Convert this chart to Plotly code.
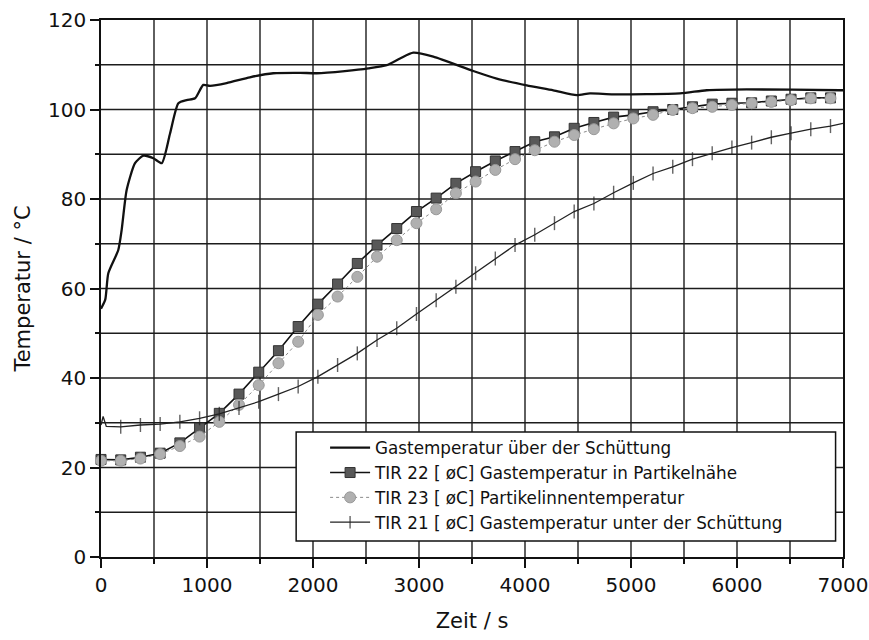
import plotly.graph_objects as go

# ---------------- data ----------------
# Gastemperatur über der Schüttung (continuous line)
t_gas = [0, 40, 69, 163, 195, 242, 321, 400, 494, 573, 652, 730, 808, 887, 965,
         1028, 1185, 1405, 1625, 1877, 2035, 2300, 2522, 2695, 2821, 2946, 3135,
         3512, 3733, 4016, 4267, 4488, 4613, 4833, 5462, 5714, 6091, 6972, 7000]
v_gas = [55.5, 57.5, 63.4, 68.6, 73.1, 82.0, 88.0, 89.7, 89.1, 88.0, 94.7, 101.4,
         102.1, 102.5, 105.5, 105.3, 105.9, 107.2, 108.1, 108.2, 108.1, 108.6, 109.2,
         109.9, 111.4, 112.7, 111.8, 108.6, 106.9, 105.4, 104.3, 103.2, 103.6, 103.4,
         103.6, 104.3, 104.5, 104.3, 104.3]

# sampling times of the measured points (s)
t_meas = [0, 186, 372, 558, 744, 930, 1116, 1302, 1488, 1674, 1860, 2046, 2232,
          2418, 2604, 2790, 2976, 3162, 3348, 3534, 3720, 3906, 4092, 4278, 4464,
          4650, 4836, 5022, 5208, 5394, 5580, 5766, 5952, 6138, 6324, 6510, 6696, 6882]

v_tir22 = [21.8, 21.7, 22.3, 23.2, 25.5, 28.8, 32.1, 36.4, 41.3, 46.1, 51.5, 56.5,
           61.0, 65.6, 69.7, 73.4, 77.2, 80.2, 83.5, 86.1, 88.5, 90.6, 92.8, 93.9,
           95.8, 97.1, 98.3, 98.8, 99.5, 100.0, 100.6, 101.2, 101.4, 101.5, 101.9,
           102.3, 102.6, 102.6]

v_tir23 = [21.5, 21.5, 22.0, 23.0, 24.8, 26.9, 30.2, 34.0, 38.4, 43.3, 48.1, 54.1,
           58.2, 62.6, 67.1, 70.8, 74.6, 77.7, 81.3, 83.9, 86.5, 88.9, 90.9, 92.8,
           94.3, 95.6, 96.9, 98.0, 98.8, 99.9, 100.3, 100.6, 101.0, 101.4, 101.7,
           102.1, 102.5, 102.5]

# TIR 21 (line with start spike; markers at the sampling times)
t_tir21 = [0, 20, 50] + t_meas[1:] + [7000]
v_tir21 = [29.5, 31.4, 29.2,
           29.1, 29.5, 29.7, 30.2, 31.0, 32.0, 33.3, 34.7, 36.4, 38.1, 40.3, 42.9,
           45.5, 48.5, 51.1, 54.3, 57.4, 60.4, 63.4, 66.7, 69.7, 72.0, 74.6, 77.2,
           79.0, 81.4, 83.6, 85.7, 87.2, 88.9, 90.2, 91.5, 92.6, 93.8, 94.7, 95.6,
           96.3, 96.9]
tir21_marker_size = [10 if t in t_meas[1:] else 0 for t in t_tir21]

names = ["Gastemperatur über der Schüttung",
         "TIR 22 [ øC] Gastemperatur in Partikelnähe",
         "TIR 23 [ øC] Partikelinnentemperatur",
         "TIR 21 [ øC] Gastemperatur unter der Schüttung"]

# grid positions (every 500 s and every 10 °C)
x_grid = [500, 1000, 1500, 2000, 2500, 3000, 3500, 4000, 4500, 5000, 5500, 6000, 6500]
y_grid = [10, 20, 30, 40, 50, 60, 70, 80, 90, 100, 110]

FONT = "DejaVu Sans"
INK = "#111111"
GRID = "#1c1c1c"

fig = go.Figure()
fig.add_trace(go.Scatter(x=t_gas, y=v_gas, mode="lines", name=names[0],
                         line=dict(color=INK, width=2.3, shape="spline", smoothing=0.6),
                         cliponaxis=False))
fig.add_trace(go.Scatter(x=t_meas, y=v_tir22, mode="lines+markers", name=names[1],
                         line=dict(color=INK, width=1.6),
                         marker=dict(symbol="square", size=10, color="#585858",
                                     line=dict(color="#333333", width=1)),
                         cliponaxis=False))
fig.add_trace(go.Scatter(x=t_meas, y=v_tir23, mode="lines+markers", name=names[2],
                         line=dict(color="#8a8a8a", width=1, dash="dot"),
                         marker=dict(symbol="circle", size=11, color="#b0b0b0",
                                     line=dict(color="#999999", width=1)),
                         cliponaxis=False))
fig.add_trace(go.Scatter(x=t_tir21, y=v_tir21, mode="lines+markers", name=names[3],
                         line=dict(color="#222222", width=1.3),
                         marker=dict(symbol="line-ns", size=tir21_marker_size,
                                     line=dict(color="#222222", width=1.4)),
                         cliponaxis=False))

xaxis = dict(
    showline=True, linecolor=INK, linewidth=1.6, mirror=True,
    showgrid=False, zeroline=False,
    ticks="outside", ticklen=9, tickwidth=1.5, tickcolor=INK,
    tickfont=dict(family=FONT, size=20, color=INK),
    range=[0, 7000], tickmode="linear", tick0=0, dtick=1000,
    minor=dict(dtick=500, tick0=0, showgrid=False, ticks="outside", ticklen=5,
               tickwidth=1.5, tickcolor=INK),
    title=dict(text="Zeit / s", font=dict(family=FONT, size=21, color=INK), standoff=18),
)
yaxis = dict(
    showline=True, linecolor=INK, linewidth=1.6, mirror=True,
    showgrid=False, zeroline=False,
    ticks="outside", ticklen=9, tickwidth=1.5, tickcolor=INK,
    tickfont=dict(family=FONT, size=20, color=INK),
    range=[0, 120], tickmode="linear", tick0=0, dtick=20,
    minor=dict(dtick=10, tick0=0, showgrid=False, ticks="outside", ticklen=4,
               tickwidth=1.5, tickcolor=INK),
    title=dict(text="Temperatur / °C", font=dict(family=FONT, size=21, color=INK), standoff=12),
)

shapes = []
for gx in x_grid:
    shapes.append(dict(type="line", xref="x", yref="paper", x0=gx, x1=gx, y0=0, y1=1,
                       line=dict(color=GRID, width=1.4), layer="below"))
for gy in y_grid:
    shapes.append(dict(type="line", xref="paper", yref="y", x0=0, x1=1, y0=gy, y1=gy,
                       line=dict(color=GRID, width=1.4), layer="below"))
# legend frame (white box with black border)
shapes.append(dict(type="rect", xref="paper", yref="paper",
                   x0=0.263, x1=0.99, y0=0.03, y1=0.233,
                   fillcolor="white", line=dict(color=INK, width=1.5), layer="above"))

fig.update_layout(
    template="none",
    width=869, height=640,
    margin=dict(l=101, r=26, t=20, b=83),
    plot_bgcolor="white", paper_bgcolor="white",
    font=dict(family=FONT, color=INK),
    xaxis=xaxis, yaxis=yaxis,
    legend=dict(x=0.302, y=0.236, xanchor="left", yanchor="top",
                bgcolor="rgba(0,0,0,0)", borderwidth=0,
                font=dict(family=FONT, size=16.8, color=INK),
                itemwidth=40, tracegroupgap=0),
    showlegend=True,
    shapes=shapes,
)

fig.write_html("out.html")
